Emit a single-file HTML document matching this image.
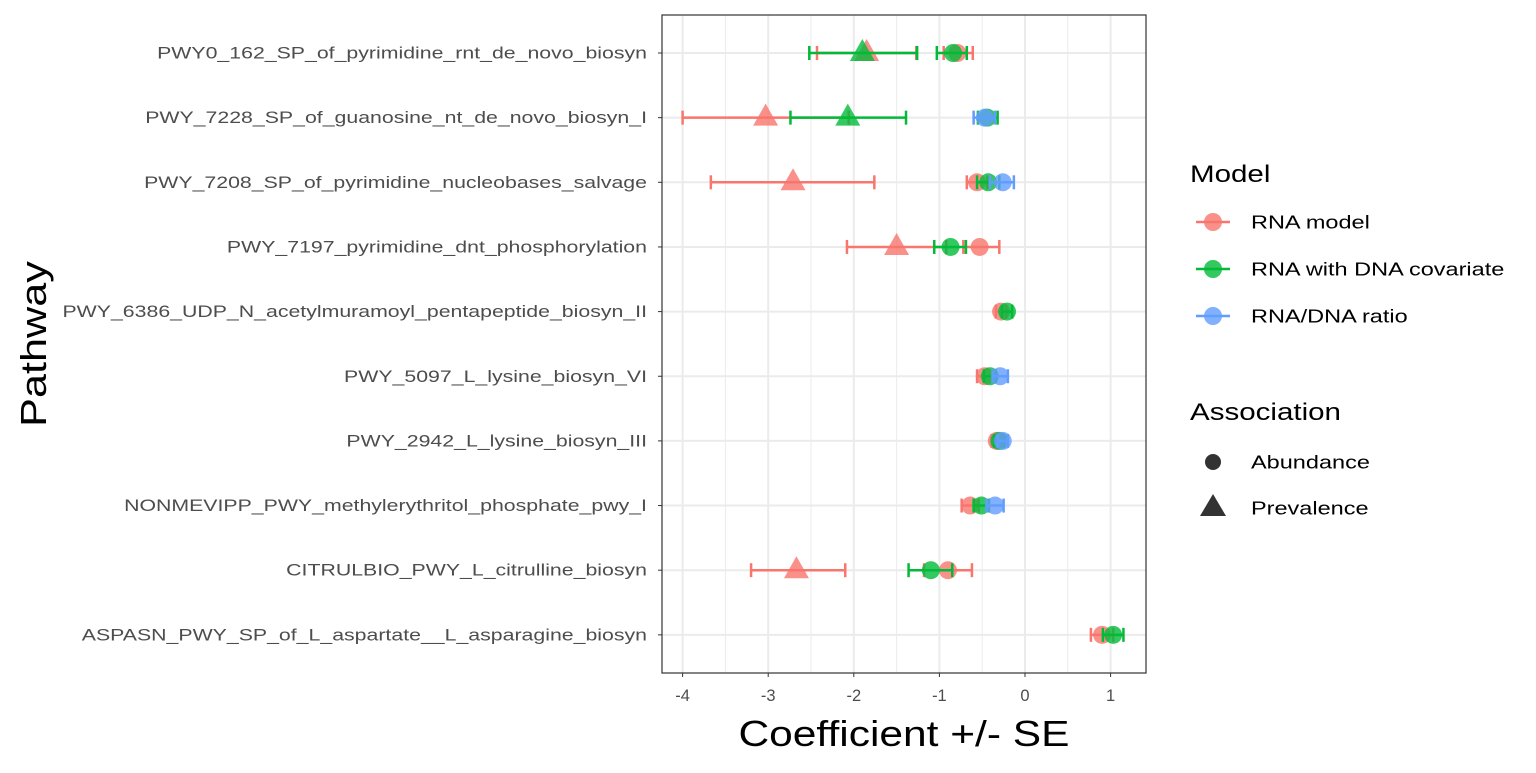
<!DOCTYPE html>
<html><head><meta charset="utf-8"><style>
body{margin:0;background:#fff;font-family:"Liberation Sans",sans-serif}
</style></head><body>
<svg id="c" width="1536" height="768" xmlns="http://www.w3.org/2000/svg"></svg>
<script>
const pathways=["PWY0_162_SP_of_pyrimidine_rnt_de_novo_biosyn","PWY_7228_SP_of_guanosine_nt_de_novo_biosyn_I","PWY_7208_SP_of_pyrimidine_nucleobases_salvage","PWY_7197_pyrimidine_dnt_phosphorylation","PWY_6386_UDP_N_acetylmuramoyl_pentapeptide_biosyn_II","PWY_5097_L_lysine_biosyn_VI","PWY_2942_L_lysine_biosyn_III","NONMEVIPP_PWY_methylerythritol_phosphate_pwy_I","CITRULBIO_PWY_L_citrulline_biosyn","ASPASN_PWY_SP_of_L_aspartate__L_asparagine_biosyn"];
const xTicks=[-4,-3,-2,-1,0,1];
// each point: [rowIndex, model(0 RNA,1 RNA+DNA,2 ratio), shape(0 circle,1 triangle), coef, lo, hi]
const rowIdx=[0,0,0,0, 1,1,1,1, 2,2,2,2, 3,3,3, 4,4, 5,5,5, 6,6,6, 7,7,7, 8,8,8, 9,9];
const modelIdx=[0,1,0,1, 0,1,1,2, 0,0,1,2, 0,0,1, 0,1, 0,1,2, 0,1,2, 0,1,2, 0,0,1, 0,1];
const shapeIdx=[1,1,0,0, 1,1,0,0, 1,0,0,0, 1,0,0, 0,0, 0,0,0, 0,0,0, 0,0,0, 1,0,0, 0,0];
const coefs=[-1.85,-1.9,-0.79,-0.84, -3.03,-2.07,-0.44,-0.47, -2.71,-0.56,-0.43,-0.26, -1.5,-0.53,-0.87, -0.28,-0.21, -0.47,-0.41,-0.29, -0.33,-0.3,-0.26, -0.64,-0.51,-0.35, -2.67,-0.9,-1.1, 0.9,1.03];
const lows=[-2.43,-2.52,-0.95,-1.03, -4.0,-2.74,-0.55,-0.6, -3.67,-0.68,-0.56,-0.41, -2.08,-0.72,-1.06, -0.34,-0.27, -0.56,-0.48,-0.38, -0.39,-0.36,-0.32, -0.74,-0.6,-0.45, -3.2,-1.18,-1.36, 0.77,0.91];
const highs=[-1.27,-1.26,-0.61,-0.68, -2.06,-1.39,-0.32,-0.35, -1.76,-0.44,-0.3,-0.13, -0.92,-0.3,-0.69, -0.22,-0.15, -0.38,-0.34,-0.2, -0.27,-0.24,-0.2, -0.54,-0.42,-0.25, -2.1,-0.62,-0.85, 1.03,1.15];
const colors=["#F8766D","#00BA38","#619CFF"];
const modelNames=["RNA model","RNA with DNA covariate","RNA/DNA ratio"];
const NS="http://www.w3.org/2000/svg", svg=document.getElementById('c');
const PL=662,PR=1146,PT=15,PB=673;
const xs=v=>1025+85.6*v;
const ys=i=>53+i*64.65;
function mk(t,a,p){const e=document.createElementNS(NS,t);for(const k in a)e.setAttribute(k,a[k]);(p||svg).appendChild(e);return e;}
function stretch(el,f){const w=el.getComputedTextLength();el.setAttribute('textLength',w*f);el.setAttribute('lengthAdjust','spacingAndGlyphs');}
const bg=mk('rect',{x:PL,y:PT,width:PR-PL,height:PB-PT,fill:'#fff'});


for(let v=-4.5;v<=1.5;v+=0.5){const x=xs(v);if(x<PL||x>PR)continue;const major=Number.isInteger(v);
 const g=mk('line',{x1:x,x2:x,y1:PT,y2:PB,stroke:'#EBEBEB','stroke-width':major?2:1});
 
 }
pathways.forEach((p,i)=>{const y=ys(i);
 const g=mk('line',{x1:PL,x2:PR,y1:y,y2:y,stroke:'#EBEBEB','stroke-width':2});
 
 
 const tk=mk('line',{x1:PL-4,x2:PL,y1:y,y2:y,stroke:'#333','stroke-width':1});
 
 
 const t=mk('text',{x:PL-15,y:y+5.5,'text-anchor':'end','font-size':16.5,fill:'#4d4d4d'});t.textContent=p;
 
 
 stretch(t,1.29);
});
xTicks.forEach(v=>{const x=xs(v);
 const tk=mk('line',{x1:x,x2:x,y1:PB,y2:PB+4,stroke:'#333','stroke-width':1});
 
 
 const t=mk('text',{x:x,y:PB+28,'text-anchor':'middle','font-size':16.5,fill:'#4d4d4d'});t.textContent=v;
 
 
});
for(let k=0;k<coefs.length;k++){
 const y=ys(rowIdx[k]),c=colors[modelIdx[k]],x1=xs(lows[k]),x2=xs(highs[k]),x=xs(coefs[k]);
 const g=mk('g',{});
 
 
 mk('line',{x1:x1,x2:x2,y1:y,y2:y,stroke:c,'stroke-width':2.5},g);
 mk('line',{x1:x1,x2:x1,y1:y-7,y2:y+7,stroke:c,'stroke-width':2.5},g);
 mk('line',{x1:x2,x2:x2,y1:y-7,y2:y+7,stroke:c,'stroke-width':2.5},g);
 let m;
 if(shapeIdx[k]===0) m=mk('circle',{cx:x,cy:y,r:9,fill:c,'fill-opacity':0.8});
 else m=mk('polygon',{points:`${x},${y-14} ${x-12.5},${y+8} ${x+12.5},${y+8}`,fill:c,'fill-opacity':0.8});
 
 
}
const bd=mk('rect',{x:PL,y:PT,width:PR-PL,height:PB-PT,fill:'none',stroke:'#333','stroke-width':1.2});


let t=mk('text',{x:904,y:746,'text-anchor':'middle','font-size':36,fill:'#000'});t.textContent='Coefficient +/- SE';


stretch(t,1.18);
t=mk('text',{x:0,y:0,'text-anchor':'middle','font-size':36,fill:'#000',transform:'translate(46,344) rotate(-90)'});t.textContent='Pathway';


stretch(t,1.2);
t=mk('text',{x:1190,y:182,'font-size':24,fill:'#000'});t.textContent='Model';


stretch(t,1.23);
modelNames.forEach((n,i)=>{const y=222+i*47;
 const g=mk('g',{});
 
 
 mk('line',{x1:1196,x2:1230,y1:y,y2:y,stroke:colors[i],'stroke-width':2.5},g);
 mk('circle',{cx:1213,cy:y,r:9,fill:colors[i],'fill-opacity':0.8},g);
 const tt=mk('text',{x:1251,y:y+6.5,'font-size':18.5,fill:'#000'},g);tt.textContent=n;
 stretch(tt,1.27);
});
t=mk('text',{x:1190,y:420,'font-size':24,fill:'#000'});t.textContent='Association';


stretch(t,1.23);
let g=mk('g',{});


mk('circle',{cx:1213,cy:462,r:8,fill:'#333'},g);
let tt=mk('text',{x:1251,y:468.5,'font-size':18.5,fill:'#000'},g);tt.textContent='Abundance';
stretch(tt,1.27);
g=mk('g',{});


mk('polygon',{points:'1213,494 1200,516 1226,516',fill:'#333'},g);
tt=mk('text',{x:1251,y:514.5,'font-size':18.5,fill:'#000'},g);tt.textContent='Prevalence';
stretch(tt,1.27);
</script>
</body></html>
